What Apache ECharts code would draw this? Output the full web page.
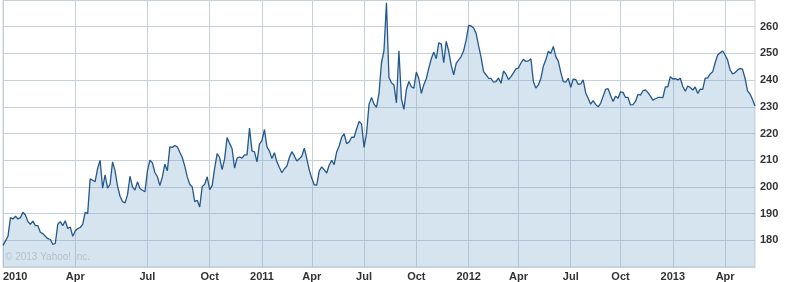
<!DOCTYPE html>
<html>
<head>
<meta charset="utf-8">
<script src="https://cdn.jsdelivr.net/npm/echarts@6/dist/echarts.min.js"></script>
<style>
html,body{margin:0;padding:0;background:#fff;}
#c{width:786px;height:282px;}
</style>
</head>
<body>
<div id="c"></div>
<script>
// Closing prices, one reading per evenly spaced position along the chart
const prices = [
178.1,179.8,181.5,188.5,188,189,188,188.5,190.5,189.5,
187,186,187.2,185.5,185.5,183,182.5,181.5,180.6,180.3,
178.5,178.8,186,187,185.5,187.3,184.4,185,181.5,183.5,
184.4,184.8,186,190.5,190,203,202.5,202,206.9,210,
199.5,204.5,199.5,201,209.4,206,200.3,196.5,194.5,194,
197,204,200,198.8,201.9,199.4,198.75,198.2,206,210,
209,205.4,203.8,200.5,203.75,208.5,206,215,214.8,215.5,
215,213,211,207.8,203.75,201,200,194.5,195,192.5,
200.1,201,203.8,199,200.5,207,212.5,211,206.5,210.5,
218.5,216.3,214.3,207,210.8,211.2,210.8,212,212,222,
213.5,213.1,209.4,216,217.4,221.5,215,213.4,210.6,212.8,
209.4,207.3,205.3,206.8,207.8,211,213.2,211.6,209.7,210.5,
211.5,214.5,210.6,206.3,203.2,200.8,200.7,206,207.5,206.4,
205.2,208.2,210,208.3,213.1,215.3,218.6,219.9,216.2,216.8,
218.6,218.6,221.7,224.5,223.6,214.8,220,231,233.5,231,
229.8,235,246.5,251,269,241,239,238.2,231.5,251,
233,229,236.5,239.5,237.5,237,243,240.5,235,238.3,
240.5,244.5,248,250.5,248,254,253.5,246.5,254.5,250.8,
245.5,242,246.3,247.6,248.8,251,255,260.5,260.3,259.5,
257.5,252.8,248.5,243.2,242,240.7,240.6,239.2,239.4,240.8,
238.8,243.4,242.2,240.2,241.3,242.7,244.2,244.5,246.4,247.8,
247,247.2,248,239.5,237,238.2,240.6,245.2,247.6,250.8,
250,252.6,248.8,247.1,243,239.4,239.2,240.7,237.3,240.4,
240.2,238.4,238.6,240.1,235.2,233.2,231,232.3,230.9,230,
231.3,233.9,236.5,236.8,234.2,232,234,233.2,235.6,235.4,
233.5,233.5,230.7,230.8,232,234.7,234.4,236,236.3,235.3,
234,232.5,233,233.5,233.5,233.4,237.5,237.5,241.3,240.4,
240.6,240.1,240.7,237.6,235.8,237.8,237.2,236.3,237.4,235,
236.6,236.5,240.7,240.8,242.3,243.1,246.5,249.4,250.2,250.9,
249.4,247.5,243.8,242.3,242.8,243.8,244.4,244,240.7,236,
234.8,232.7,230.3
];

// Quarter boundaries: the reading at which each quarter starts, its date and its tick label
const quarterIdx    = [0, 29, 58, 83, 104, 124, 145, 166, 187, 207, 228, 248, 269, 290];
const quarterDates  = ['2010-01-01','2010-04-01','2010-07-01','2010-10-01','2011-01-01','2011-04-01','2011-07-01','2011-10-01','2012-01-01','2012-04-01','2012-07-01','2012-10-01','2013-01-01','2013-04-01'];
const quarterLabels = ['2010','Apr','Jul','Oct','2011','Apr','Jul','Oct','2012','Apr','Jul','Oct','2013','Apr'];

// y-axis
const yMin = 170, yMax = 270, yStep = 10;

// category dates for each reading
function pad(n){return n<10?'0'+n:''+n;}
const qT = quarterDates.map(d => Date.parse(d + 'T00:00:00Z'));
const categories = prices.map((_, i) => {
  let k = 0;
  while (k < quarterIdx.length - 2 && i >= quarterIdx[k + 1]) k++;
  const t = qT[k] + (i - quarterIdx[k]) * (qT[k + 1] - qT[k]) / (quarterIdx[k + 1] - quarterIdx[k]);
  const d = new Date(t);
  return d.getUTCFullYear() + '-' + pad(d.getUTCMonth() + 1) + '-' + pad(d.getUTCDate());
});
const labelAt = {};
quarterIdx.forEach((ix, j) => { labelAt[ix] = quarterLabels[j]; });
const isQuarter = (idx) => labelAt[idx] !== undefined;

const gridColor = '#c8d1da';
const chart = echarts.init(document.getElementById('c'), null, {renderer: 'canvas'});
chart.setOption({
  animation: false,
  backgroundColor: '#ffffff',
  grid: {left: 0, right: 31, top: 0, bottom: 15, show: true, borderColor: gridColor, borderWidth: 1, backgroundColor: 'transparent'},
  graphic: [{
    type: 'text', left: 5, top: 252, z: 10,
    style: {text: '\u00A9 2013 Yahoo! Inc.', fill: '#b3c0cc', font: '10px "Liberation Sans", Arial, sans-serif'}
  }],
  xAxis: {
    type: 'category',
    data: categories,
    boundaryGap: false,
    axisLine: {show: true, lineStyle: {color: gridColor}},
    axisTick: {show: false},
    splitLine: {show: true, interval: (idx) => isQuarter(idx), lineStyle: {color: gridColor, width: 1}},
    axisLabel: {
      interval: (idx) => isQuarter(idx),
      formatter: (v, idx) => labelAt[idx] || '',
      color: '#333333', fontWeight: 'bold', fontSize: 11,
      fontFamily: '"Liberation Sans", Arial, sans-serif',
      margin: 4, alignMinLabel: 'left'
    }
  },
  yAxis: {
    type: 'value', position: 'right',
    min: yMin, max: yMax, interval: yStep,
    axisLine: {show: false}, axisTick: {show: false},
    splitLine: {show: true, lineStyle: {color: gridColor, width: 1}},
    axisLabel: {
      showMinLabel: false, showMaxLabel: false,
      color: '#333333', fontWeight: 'bold', fontSize: 11,
      fontFamily: '"Liberation Sans", Arial, sans-serif', margin: 5
    }
  },
  series: [{
    type: 'line',
    data: prices,
    showSymbol: false,
    smooth: false,
    lineStyle: {color: '#24578a', width: 1.3},
    areaStyle: {color: 'rgba(118,165,205,0.3)', opacity: 1}
  }]
});
</script>
</body>
</html>
